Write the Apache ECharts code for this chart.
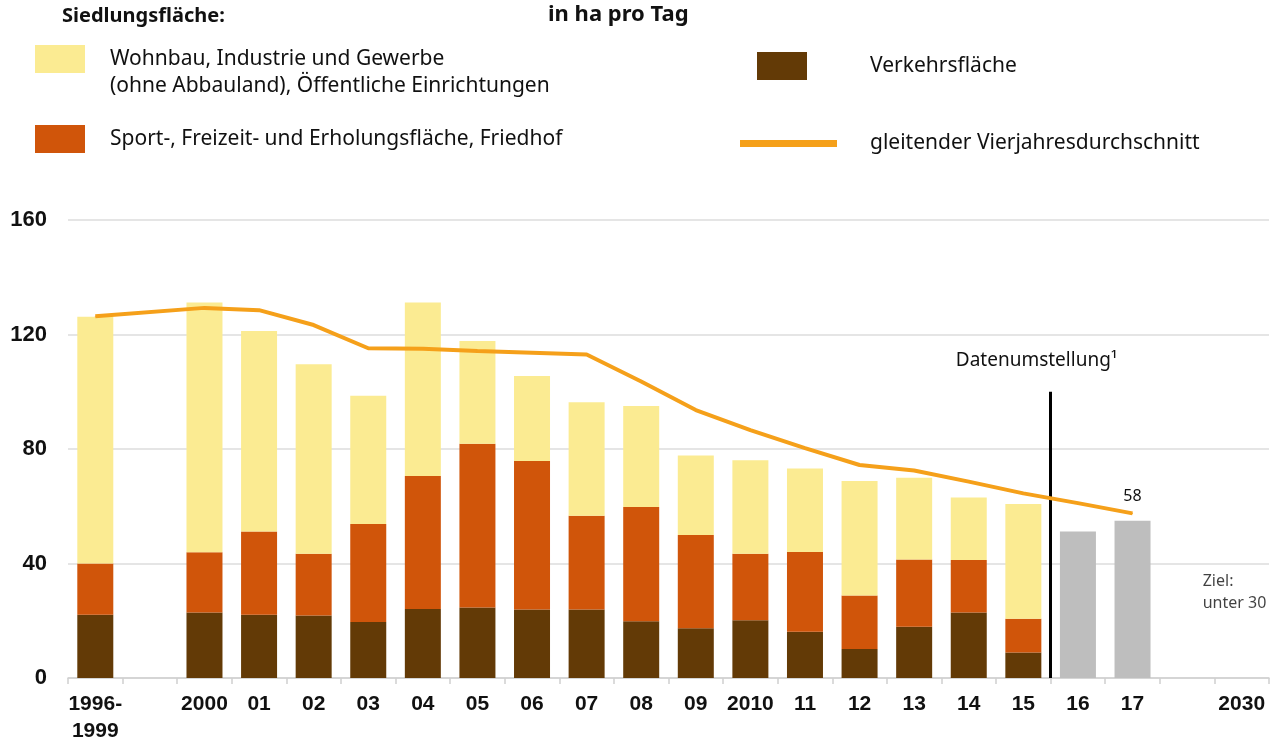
<!DOCTYPE html>
<html>
<head>
<meta charset="utf-8">
<script src="https://cdn.jsdelivr.net/npm/echarts@6/dist/echarts.min.js"></script>
<style>
  html, body { margin: 0; padding: 0; background: #fff; }
  #chart { width: 1279px; height: 738px; }
</style>
</head>
<body>
<div id="chart"></div>
<script>
var categories = ['1996-\n1999', '', '2000', '01', '02', '03', '04', '05', '06', '07', '08', '09',
  '2010', '11', '12', '13', '14', '15', '16', '17', '', '2030'];

// Verkehrsfläche (unten)
var verkehr = [22.1, null, 22.9, 22.1, 21.8, 19.6, 24.1, 24.6, 23.9, 23.9, 19.8, 17.4,
  20.2, 16.2, 10.1, 17.9, 22.9, 8.9, null, null, null, null];
// Sport-, Freizeit- und Erholungsfläche, Friedhof
var sport = [17.9, null, 21.0, 29.1, 21.6, 34.2, 46.5, 57.2, 51.9, 32.8, 39.9, 32.6,
  23.2, 27.8, 18.7, 23.5, 18.3, 11.8, null, null, null, null];
// Wohnbau, Industrie und Gewerbe ...
var wohnbau = [86.2, null, 87.3, 70.0, 66.2, 44.8, 60.6, 35.9, 29.7, 39.6, 35.3, 27.7,
  32.7, 29.2, 40.0, 28.6, 21.9, 40.1, null, null, null, null];
// nach Datenumstellung (gesamt)
var gesamtNeu = [null, null, null, null, null, null, null, null, null, null, null, null,
  null, null, null, null, null, null, 51.2, 54.9, null, null];
// gleitender Vierjahresdurchschnitt
var durchschnitt = [126.4, null, 129.3, 128.5, 123.3, 115.2, 115.0, 114.2, 113.6, 113.0, 103.6, 93.6,
  86.6, 80.3, 74.4, 72.5, 68.6, 64.5, 61.1, 57.5, null, null];
var durchschnittLabel = '58';
var zielWert = 30;
var yTicks = [0, 40, 80, 120, 160];

var names = {
  wohnbau: 'Wohnbau, Industrie und Gewerbe',
  sport: 'Sport-, Freizeit- und Erholungsfläche, Friedhof',
  verkehr: 'Verkehrsfläche',
  line: 'gleitender Vierjahresdurchschnitt'
};

var legendFont = { fontFamily: 'Noto Sans', fontSize: 21, color: '#111' };

function legendAt(name, left, top, w, h, pad, icon) {
  return {
    data: [{ name: name, icon: icon || 'rect' }],
    left: left, top: top, padding: 0,
    itemWidth: w, itemHeight: h,
    selectedMode: false,
    textStyle: Object.assign({ padding: [0, 0, 0, pad] }, legendFont)
  };
}

var lineData = durchschnitt.map(function (v, i) {
  if (i === durchschnitt.length - 3) {
    return { value: v, label: { show: true, formatter: durchschnittLabel } };
  }
  return v;
});

var option = {
  animation: false,
  textStyle: { fontFamily: 'Liberation Sans' },
  legend: [
    legendAt(names.wohnbau, 35, 45, 50, 28, 20),
    legendAt(names.sport, 35, 125, 50, 28, 20),
    legendAt(names.verkehr, 757, 52, 50, 28, 58),
    legendAt(names.line, 740, 133, 97, 7, 28)
  ],
  graphic: [
    { type: 'text', left: 62, top: 6, style: { text: 'Siedlungsfläche:', fontFamily: 'Noto Sans', fontWeight: 'bold', fontSize: 20, fill: '#111' } },
    { type: 'text', left: 548, top: 4, style: { text: 'in ha pro Tag', fontFamily: 'Noto Sans', fontWeight: 'bold', fontSize: 22, fill: '#111' } },
    { type: 'text', left: 110, top: 76, style: { text: '(ohne Abbauland), Öffentliche Einrichtungen', fontFamily: 'Noto Sans', fontSize: 21, fill: '#111' } }
  ],
  grid: { left: 68, right: 10, top: 220, bottom: 60, outerBoundsMode: 'none' },
  xAxis: [{
    type: 'category',
    data: categories,
    axisLine: { lineStyle: { color: '#cfcfcf', width: 1.5 } },
    axisTick: { show: true, length: 6, lineStyle: { color: '#cfcfcf', width: 1.5 } },
    axisLabel: { interval: 0, margin: 13, fontSize: 21, fontWeight: 'bold', color: '#111', lineHeight: 27 }
  }, {
    type: 'value', min: 0, max: categories.length, show: false
  }],
  yAxis: {
    type: 'value', min: yTicks[0], max: yTicks[yTicks.length - 1], interval: 40,
    axisLine: { show: false },
    axisTick: { show: false },
    axisLabel: { margin: 21, fontSize: 22, fontWeight: 'bold', color: '#111' },
    splitLine: { lineStyle: { color: '#dcdcdc', width: 1.5 } }
  },
  series: [
    { name: names.verkehr, type: 'bar', stack: 'a', barWidth: 36, data: verkehr, itemStyle: { color: '#633a06' } },
    { name: names.sport, type: 'bar', stack: 'a', data: sport, itemStyle: { color: '#d0550a' } },
    { name: names.wohnbau, type: 'bar', stack: 'a', data: wohnbau, itemStyle: { color: '#fbeb92' } },
    { name: 'neu', type: 'bar', stack: 'a', data: gesamtNeu, itemStyle: { color: '#bebebe' } },
    {
      name: names.line, type: 'line', data: lineData, connectNulls: true,
      symbol: 'circle', symbolSize: 1, showSymbol: true, z: 5,
      lineStyle: { color: '#f5a01a', width: 4 }, itemStyle: { color: '#f5a01a' },
      label: { position: 'top', distance: 8, fontFamily: 'Noto Sans', fontSize: 16, color: '#111' }
    },
    {
      name: 'ziel', type: 'scatter', symbolSize: 0, data: [[categories[categories.length - 1], zielWert]],
      label: {
        show: true, position: 'inside', align: 'left', offset: [-39, 0],
        formatter: 'Ziel:\nunter 30', fontFamily: 'Noto Sans', fontSize: 16, lineHeight: 22, color: '#111'
      }
    },
    {
      name: 'umstellung', type: 'scatter', xAxisIndex: 1, symbolSize: 0, data: [[18, 0]],
      markLine: {
        silent: true, symbol: 'none',
        lineStyle: { color: '#000', width: 3, type: 'solid' },
        label: {
          position: 'end', distance: 22, formatter: 'Datenumstellung¹', padding: [0, 28, 0, 0],
          fontFamily: 'Noto Sans', fontSize: 19, color: '#111'
        },
        data: [[{ coord: [18, 0] }, { coord: [18, 100] }]]
      }
    }
  ]
};

var myChart = echarts.init(document.getElementById('chart'));
myChart.setOption(option);
</script>
</body>
</html>
